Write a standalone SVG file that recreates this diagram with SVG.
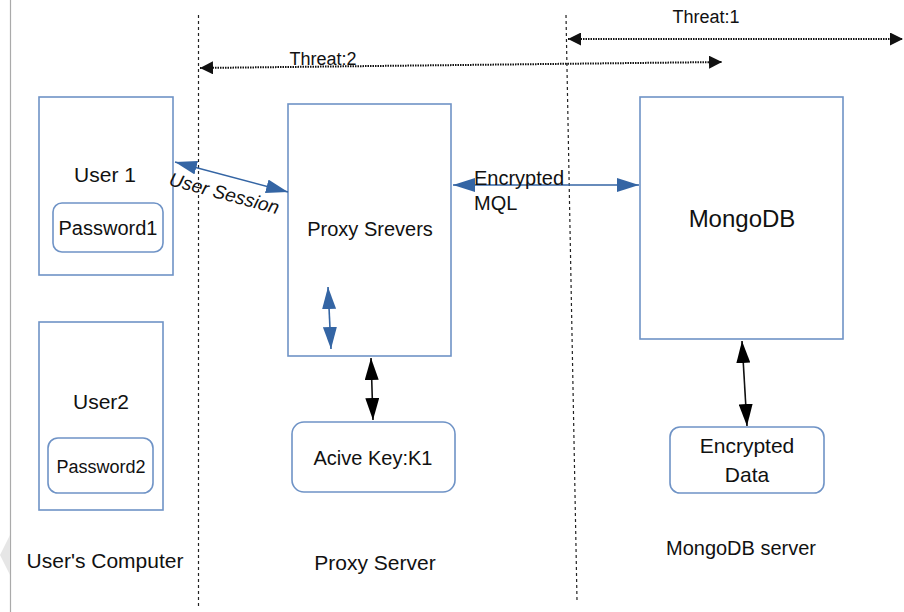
<svg xmlns="http://www.w3.org/2000/svg" width="904" height="612" viewBox="0 0 904 612">
<style>
text{font-family:"Liberation Sans",Arial,sans-serif;fill:#111}
.box{fill:#fff;stroke:#6f93c6;stroke-width:1.6}
.div{stroke:#222;stroke-width:1.2;stroke-dasharray:3,3;fill:none}
.thr{stroke:#111;stroke-width:2;stroke-dasharray:1.5,1;fill:none}
.blue{stroke:#3465a4;stroke-width:1.6;fill:none}
.blk{stroke:#111;stroke-width:1.6;fill:none}
</style>
<defs>
<marker id="tb" viewBox="0 0 10 10" refX="10" refY="5" markerWidth="13" markerHeight="13" markerUnits="userSpaceOnUse" orient="auto-start-reverse" preserveAspectRatio="none"><path d="M0,0L10,5L0,10z" fill="#111"/></marker>
<marker id="bl" viewBox="0 0 10 10" refX="10" refY="5" markerWidth="22" markerHeight="14" markerUnits="userSpaceOnUse" orient="auto-start-reverse" preserveAspectRatio="none"><path d="M0,0L10,5L0,10z" fill="#3465a4"/></marker>
<marker id="bk" viewBox="0 0 10 10" refX="10" refY="5" markerWidth="22" markerHeight="14" markerUnits="userSpaceOnUse" orient="auto-start-reverse" preserveAspectRatio="none"><path d="M0,0L10,5L0,10z" fill="#000"/></marker>
</defs>
<rect width="904" height="612" fill="#fff"/>
<line x1="10.5" y1="0" x2="10.5" y2="612" stroke="#aaa" stroke-width="1.2"/>
<path d="M10,535L0,555L10,575z" fill="#e6e6e6"/>
<g id="dividers">
<line class="div" x1="198.5" y1="15" x2="198.5" y2="606"/>
<line class="div" x1="566" y1="15" x2="577" y2="600"/>
</g>
<g id="threat1"><text x="706" y="23" font-size="18" text-anchor="middle">Threat:1</text></g>
<g id="threat2"><text x="323" y="65" font-size="18" text-anchor="middle">Threat:2</text></g>
<g id="user1">
<rect class="box" x="39" y="97" width="134" height="178"/>
<text x="105" y="182" font-size="21" text-anchor="middle">User 1</text>
<rect class="box" x="53" y="203" width="110" height="49" rx="9"/>
<text x="108" y="235" font-size="20" text-anchor="middle">Password1</text>
</g>
<g id="user2">
<rect class="box" x="39" y="322" width="124" height="188"/>
<text x="101" y="409" font-size="21" text-anchor="middle">User2</text>
<rect class="box" x="48" y="438" width="105" height="55" rx="10"/>
<text x="101" y="473" font-size="18" text-anchor="middle">Password2</text>
</g>
<g id="proxy">
<rect class="box" x="288" y="104" width="163" height="252"/>
<text x="370" y="236" font-size="20" text-anchor="middle">Proxy Srevers</text>
</g>
<g id="key">
<rect class="box" x="292" y="422" width="163" height="70" rx="12"/>
<text x="373" y="465" font-size="20" text-anchor="middle">Acive Key:K1</text>
</g>
<g id="mongodb">
<rect class="box" x="640" y="97" width="203" height="242"/>
<text x="742" y="227" font-size="24" text-anchor="middle">MongoDB</text>
</g>
<g id="encdata">
<rect class="box" x="670" y="427" width="154" height="66" rx="10"/>
<text x="747" y="453" font-size="21" text-anchor="middle">Encrypted</text>
<text x="747" y="482" font-size="21" text-anchor="middle">Data</text>
</g>
<g id="connectors">
<line class="thr" x1="568" y1="39" x2="903" y2="39" marker-start="url(#tb)" marker-end="url(#tb)"/>
<line class="thr" x1="200" y1="68" x2="722" y2="62" marker-start="url(#tb)" marker-end="url(#tb)"/>
<line class="blue" x1="175" y1="162" x2="288" y2="192" marker-start="url(#bl)" marker-end="url(#bl)"/>
<line class="blue" x1="453" y1="185" x2="639" y2="185" marker-start="url(#bl)" marker-end="url(#bl)"/>
<line class="blue" x1="328" y1="287" x2="331" y2="349" marker-start="url(#bl)" marker-end="url(#bl)"/>
<line class="blk" x1="371" y1="358" x2="373" y2="420" marker-start="url(#bk)" marker-end="url(#bk)"/>
<line class="blk" x1="742" y1="341" x2="747" y2="426" marker-start="url(#bk)" marker-end="url(#bk)"/>
</g>
<g id="session-label"><text x="168" y="185" font-size="19" font-style="italic" transform="rotate(15 168 185)">User Session</text></g>
<g id="mql-label">
<text x="474" y="185" font-size="20">Encrypted</text>
<text x="474" y="210" font-size="20">MQL</text>
</g>
<g id="labels">
<text x="105" y="568" font-size="21" text-anchor="middle">User's Computer</text>
<text x="375" y="570" font-size="21" text-anchor="middle">Proxy Server</text>
<text x="741" y="555" font-size="20" text-anchor="middle">MongoDB server</text>
</g>
</svg>
